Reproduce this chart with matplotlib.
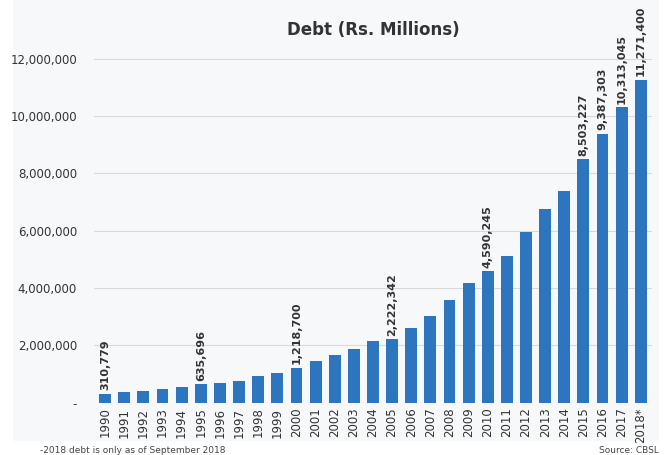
import matplotlib
matplotlib.use('Agg')
import matplotlib.pyplot as plt
from matplotlib.ticker import FuncFormatter

years = ['1990', '1991', '1992', '1993', '1994', '1995', '1996', '1997', '1998', '1999',
         '2000', '2001', '2002', '2003', '2004', '2005', '2006', '2007', '2008', '2009',
         '2010', '2011', '2012', '2013', '2014', '2015', '2016', '2017', '2018*']
debt = [310779, 360000, 390000, 470000, 550000, 635696, 700000, 760000, 930000, 1020000,
        1218700, 1450000, 1670000, 1860000, 2140000, 2222342, 2590000, 3040000, 3590000, 4160000,
        4590245, 5130000, 5970000, 6770000, 7390000, 8503227, 9387303, 10313045, 11271400]
labelled = ['1990', '1995', '2000', '2005', '2010', '2015', '2016', '2017', '2018*']

fig = plt.figure(figsize=(6.69, 4.55), dpi=100)
fig.patch.set_facecolor('white')
fig.patches.append(plt.Rectangle((0.02, 0.03), 0.965, 0.97, transform=fig.transFigure,
                                 facecolor='#f7f8fa', edgecolor='none', zorder=-1))
ax = fig.add_axes([0.14, 0.115, 0.835, 0.80])
ax.set_facecolor('#f7f8fa')

x = range(len(years))
ax.bar(x, debt, width=0.62, color='#2e75c0', zorder=3)
for i, (yr, v) in enumerate(zip(years, debt)):
    if yr in labelled:
        ax.text(i, v + 120000, f'{v:,}', rotation=90, ha='center', va='bottom',
                fontsize=8, fontweight='bold', color='#333333')

ax.set_xlim(-0.6, len(years) - 0.4)
ax.set_ylim(0, 12700000)
ax.set_yticks(range(0, 12000001, 2000000))
ax.yaxis.set_major_formatter(FuncFormatter(lambda v, p: '-' if v == 0 else f'{int(v):,}'))
ax.set_xticks(list(x))
ax.set_xticklabels(years, rotation=90, fontsize=8.5, color='#333333')
ax.tick_params(axis='y', labelsize=8.5, colors='#333333', length=0, pad=12)
ax.tick_params(axis='x', length=0)
ax.grid(axis='y', color='#d9d9d9', linewidth=0.8, zorder=0)
for s in ax.spines.values():
    s.set_visible(False)

ax.set_title('Debt (Rs. Millions)', fontsize=12, fontweight='bold', color='#333333', pad=2)
fig.text(0.06, 0.005, '-2018 debt is only as of September 2018', fontsize=6.5, color='#444444')
fig.text(0.985, 0.005, 'Source: CBSL', fontsize=6.5, color='#444444', ha='right')

plt.savefig('out.png', dpi=100)
